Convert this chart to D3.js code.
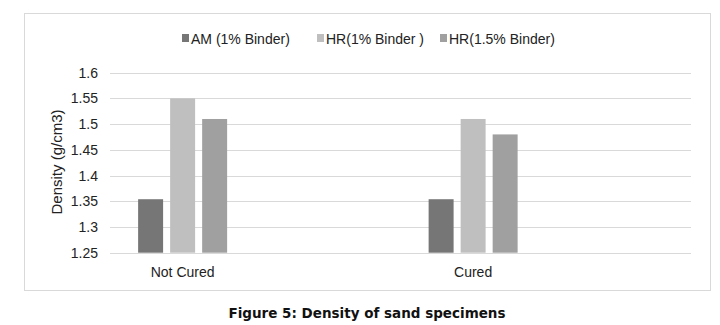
<!DOCTYPE html>
<html>
<head>
<meta charset="utf-8">
<script src="https://cdn.jsdelivr.net/npm/d3@7"></script>
<style>
  body { margin: 0; background: #fff; }
  svg { display: block; }
</style>
</head>
<body>
<svg id="chart" width="720" height="325"></svg>
<script>
// Chart data
const categories = ["Not Cured", "", "Cured", ""];
const seriesNames = ["AM (1% Binder)", "HR(1% Binder )", "HR(1.5% Binder)"];
const seriesColors = ["#767676", "#bfbfbf", "#a0a0a0"];
const amValues = [1.354, null, 1.354, null];
const hr1Values = [1.55, null, 1.51, null];
const hr15Values = [1.51, null, 1.48, null];
const yTicks = [1.25, 1.3, 1.35, 1.4, 1.45, 1.5, 1.55, 1.6];

const allSeries = [amValues, hr1Values, hr15Values];
const font = "Liberation Sans, Arial, sans-serif";

const svg = d3.select("#chart");
const plot = { left: 110, right: 691, top: 72.7, bottom: 252.7 };

// outer frame
svg.append("rect")
    .attr("x", 24.5).attr("y", 13.5)
    .attr("width", 686).attr("height", 277)
    .attr("fill", "#fff")
    .attr("stroke", "#d9d9d9");

const x = d3.scaleBand()
    .domain(d3.range(categories.length))
    .range([plot.left, plot.right]);

const groupWidth = 89;
const xInner = d3.scaleBand()
    .domain(d3.range(seriesNames.length))
    .range([0, groupWidth])
    .paddingInner(0.22);

const y = d3.scaleLinear()
    .domain([1.25, 1.6])
    .range([plot.bottom, plot.top]);

// gridlines
svg.append("g")
    .selectAll("line")
    .data(yTicks)
    .join("line")
    .attr("x1", plot.left).attr("x2", plot.right)
    .attr("y1", d => Math.round(y(d)) + 0.5)
    .attr("y2", d => Math.round(y(d)) + 0.5)
    .attr("stroke", "#d9d9d9");

// y axis labels
const yAxis = d3.axisLeft(y).tickValues(yTicks).tickSize(0).tickPadding(12)
    .tickFormat(d => String(+d.toFixed(2)));
svg.append("g")
    .attr("transform", `translate(${plot.left},0)`)
    .call(yAxis)
    .call(g => g.select(".domain").remove())
    .selectAll("text")
    .attr("font-family", font)
    .attr("font-size", "14px")
    .attr("fill", "#222");

// bars
const groups = svg.append("g")
    .selectAll("g")
    .data(categories)
    .join("g")
    .attr("transform", (d, i) => `translate(${x(i) + x.bandwidth() / 2 - groupWidth / 2},0)`);

groups.selectAll("rect")
    .data((d, i) => allSeries.map((s, k) => ({ k, v: s[i] })).filter(e => e.v != null))
    .join("rect")
    .attr("x", d => xInner(d.k))
    .attr("width", xInner.bandwidth())
    .attr("y", d => y(d.v))
    .attr("height", d => y(1.25) - y(d.v))
    .attr("fill", d => seriesColors[d.k]);

// category labels
svg.append("g")
    .selectAll("text")
    .data(categories)
    .join("text")
    .attr("x", (d, i) => x(i) + x.bandwidth() / 2)
    .attr("y", 277)
    .attr("text-anchor", "middle")
    .attr("font-family", font)
    .attr("font-size", "14px")
    .attr("fill", "#222")
    .text(d => d);

// y axis title
svg.append("text")
    .attr("transform", "translate(62,162) rotate(-90)")
    .attr("text-anchor", "middle")
    .attr("font-family", font)
    .attr("font-size", "15px")
    .attr("fill", "#222")
    .text("Density (g/cm3)");

// legend
const legendX = [182, 317, 440];
const legend = svg.append("g")
    .selectAll("g")
    .data(seriesNames)
    .join("g")
    .attr("transform", (d, i) => `translate(${legendX[i]},39)`);
legend.append("rect")
    .attr("x", 0).attr("y", -5)
    .attr("width", 7).attr("height", 8)
    .attr("fill", (d, i) => seriesColors[i]);
legend.append("text")
    .attr("x", 9).attr("y", 5)
    .attr("font-family", font)
    .attr("font-size", "14px")
    .attr("fill", "#222")
    .text(d => d);

// caption
svg.append("text")
    .attr("x", 367).attr("y", 318)
    .attr("text-anchor", "middle")
    .attr("font-family", "DejaVu Sans")
    .attr("font-weight", "bold")
    .attr("font-size", "13.5px")
    .attr("fill", "#111")
    .text("Figure 5: Density of sand specimens");
</script>
</body>
</html>
